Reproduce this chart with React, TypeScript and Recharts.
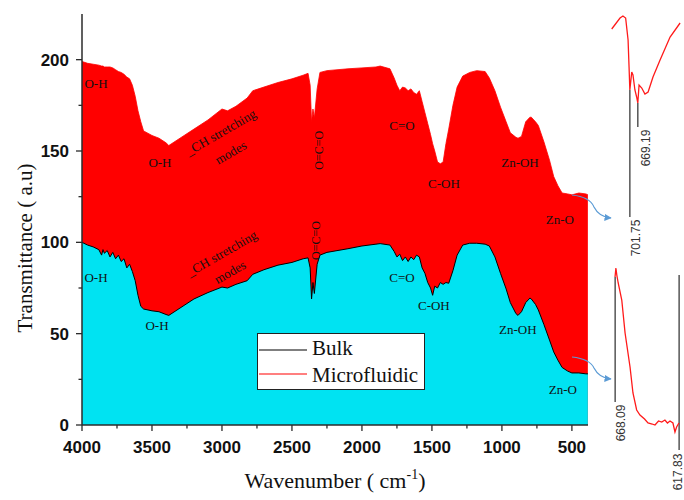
import {
  ComposedChart, LineChart, Area, Line, XAxis, YAxis, Legend,
  ReferenceDot, ReferenceLine,
} from "recharts";

// wavenumber (cm-1)
const WAVENUMBERS = [
  4000, 3960, 3920, 3880, 3860, 3850, 3840, 3820, 3800, 3780,
  3760, 3740, 3720, 3700, 3680, 3660, 3640, 3620, 3600, 3580,
  3560, 3500, 3450, 3400, 3380, 3300, 3200, 3100, 3000, 2960,
  2900, 2820, 2780, 2700, 2600, 2500, 2420, 2385, 2370, 2360,
  2350, 2340, 2320, 2300, 2250, 2100, 2000, 1900, 1870, 1800,
  1770, 1750, 1730, 1710, 1690, 1670, 1650, 1630, 1610, 1590,
  1570, 1550, 1530, 1510, 1495, 1480, 1460, 1440, 1420, 1400,
  1380, 1350, 1320, 1280, 1230, 1180, 1120, 1090, 1050, 1010,
  970, 940, 900, 885, 860, 830, 800, 790, 760, 740,
  700, 660, 630, 600, 570, 530, 500, 450, 400, 386,
];

const MICROFLUIDIC = [
  199, 198, 197.5, 197, 196.5, 196.5, 196, 196, 196, 195.5,
  194.5, 193.5, 193, 192, 190.5, 189.5, 186, 180, 172, 166,
  161, 158.5, 157, 154.5, 153, 157, 162, 167, 173, 172,
  174.5, 179, 183, 185, 187.5, 189.5, 191.5, 192.5, 186, 166,
  173, 168, 184, 193, 194, 195, 195.5, 196, 196.5, 195,
  190, 186, 183, 185, 184.5, 183, 184, 182, 181, 183,
  177, 171, 165, 159, 154, 150, 144, 143, 144, 154,
  162, 175, 185, 191, 193, 194, 193.5, 190, 183, 174,
  166, 160, 157.5, 157, 158, 166, 168.5, 168.5, 166, 164,
  155, 145, 136, 131, 127, 126.5, 126, 127, 126.5, 126,
];

const BULK = [
  100, 98.5, 97.5, 96, 93, 96, 94, 95.5, 92, 94.5,
  91, 93, 89.5, 91, 86, 88, 84, 79, 71, 65,
  63.5, 62.5, 62, 60.5, 60, 64, 69, 72.5, 75.5, 75,
  77, 79, 82.5, 85, 87.5, 89, 91, 91.5, 86, 69,
  78, 72, 88, 93, 94.5, 96.5, 98, 99, 99.3, 98.5,
  95, 92, 93.5, 90, 92, 89.5, 92, 90.5, 93, 92,
  86, 83, 78, 75, 71, 76, 75, 78, 77, 78,
  77.6, 84.5, 93, 98.5, 99.5, 99.5, 99, 98, 92, 83,
  74.5, 67, 61, 60, 62, 67, 69.5, 69, 66, 63,
  55, 46.5, 40, 35.5, 31.5, 29.5, 28.5, 28.5, 28, 28,
];

const X_TICKS = [4000, 3750, 3500, 3250, 3000, 2750, 2500, 2250, 2000, 1750, 1500, 1250, 1000, 750, 500];
const Y_TICKS = [0, 25, 50, 75, 100, 125, 150, 175, 200];
const TOP_TICKS = [3638.5, 3277, 2915.5, 2554, 2192.5, 1831, 1469.5, 1108, 746.5];
const RIGHT_TICKS = [22.5, 45, 67.5, 90, 112.5, 135, 157.5, 180, 202.5];

// band assignments: [wavenumber, transmittance, text, rotation]
const MICRO_BANDS: [number, number, string, number][] = [
  [3900, 187, "O-H", 0],
  [3443, 143.7, "O-H", 0],
  [3009, 160.3, "_CH stretching", -30],
  [2938, 149.3, "modes", -30],
  [2307, 150.4, "O=C=O", -90],
  [1714, 164, "C=O", 0],
  [1414, 132, "C-OH", 0],
  [871, 143.7, "Zn-OH", 0],
  [586, 112.6, "Zn-O", 0],
];
const BULK_BANDS: [number, number, string, number][] = [
  [3900, 81, "O-H", 0],
  [3464, 54.6, "O-H", 0],
  [3002, 94, "_CH stretching", -30],
  [2943, 83.8, "modes", -30],
  [2329, 101, "O=C=O", -90],
  [1714, 81, "C=O", 0],
  [1486, 65.6, "C-OH", 0],
  [886, 52.5, "Zn-OH", 0],
  [564, 19.7, "Zn-O", 0],
];

// zoomed insets (arbitrary transmittance units)
const INSET_A_W = [776, 742, 730, 719, 709, 705, 701.75, 694, 689, 681, 674, 669.19, 664, 653, 640, 627, 607, 578, 537, 496];
const INSET_A_T = [231, 242, 244, 242, 220, 193, 170, 188, 185, 170, 163, 157, 175, 172, 166, 168, 183, 200, 223, 237];
const INSET_B_W = [668.2, 667.5, 666.8, 665.7, 662.9, 660.3, 656.4, 654.1, 651.2, 648.6, 645, 642.3, 639, 636.8, 634, 631.5, 629, 627, 625, 622.7, 621.1, 619.8, 618];
const INSET_B_T = [223, 232, 225, 217, 200, 167, 133, 107, 90, 85, 81, 77, 76, 75, 79, 78, 80, 77, 79, 77, 68, 73, 77];
// peak: [wavenumber, top, bottom, label]
const INSET_A_PEAKS: [number, number, number, string][] = [[701.75, 170, 43, "701.75"], [669.19, 157, 133, "669.19"]];
const INSET_B_PEAKS: [number, number, number, string][] = [[668.09, 223, 98, "668.09"], [617.83, 225, 50, "617.83"]];
const INSET_A_LABELS: [number, number][] = [[676.6, 22], [635.6, 112]];
const INSET_B_LABELS: [number, number][] = [[663.7, 77], [618.8, 28]];

const data = WAVENUMBERS.map((w, i) => ({ w, micro: MICROFLUIDIC[i], bulk: BULK[i] }));
const insetA = INSET_A_W.map((w, i) => ({ w, t: INSET_A_T[i] }));
const insetB = INSET_B_W.map((w, i) => ({ w, t: INSET_B_T[i] }));

const AXIS_COLOR = "#2b2b2b";
const SANS = "'Liberation Sans', Arial, sans-serif";
const SERIF = "'Liberation Serif', 'Times New Roman', serif";

function BottomTick({ x, y, payload }: any) {
  const major = payload.value % 500 === 0;
  return (
    <g>
      <line x1={x} x2={x} y1={y} y2={y + (major ? 6 : 3.5)} stroke={AXIS_COLOR} strokeWidth={1.3} />
      {major && (
        <text x={x} y={y + 28} textAnchor="middle" fontFamily={SANS} fontWeight="bold" fontSize={17} fill="#111">
          {payload.value}
        </text>
      )}
    </g>
  );
}

function LeftTick({ x, y, payload }: any) {
  const major = payload.value % 50 === 0;
  return (
    <g>
      <line x1={x - (major ? 6 : 3.5)} x2={x} y1={y} y2={y} stroke={AXIS_COLOR} strokeWidth={1.3} />
      {major && (
        <text x={x - 13} y={y + 6} textAnchor="end" fontFamily={SANS} fontWeight="bold" fontSize={17} fill="#111">
          {payload.value}
        </text>
      )}
    </g>
  );
}

const TopTick = ({ x, y }: any) => <line x1={x} x2={x} y1={y} y2={y + 6} stroke={AXIS_COLOR} strokeWidth={1.3} />;
const RightTick = ({ x, y }: any) => <line x1={x - 5} x2={x} y1={y} y2={y} stroke={AXIS_COLOR} strokeWidth={1.3} />;

function XTitle({ viewBox }: any) {
  return (
    <text x={viewBox.x + viewBox.width / 2} y={viewBox.y + 63} textAnchor="middle" fontFamily={SERIF} fontSize={22} fill="#111">
      Wavenumber ( cm<tspan dy={-9} fontSize={14}>-1</tspan><tspan dy={9}>)</tspan>
    </text>
  );
}

function YTitle() {
  return (
    <text x={32} y={248} transform="rotate(-90, 32, 248)" textAnchor="middle" fontFamily={SERIF} fontSize={21} fill="#111">
      Transmittance ( a.u)
    </text>
  );
}

function bandLabel(text: string, angle: number) {
  return ({ cx, cy }: any) => (
    <text
      x={cx} y={cy} dy="0.35em" textAnchor="middle"
      transform={angle ? `rotate(${angle}, ${cx}, ${cy})` : undefined}
      fontFamily={SERIF} fontSize={text === "O=C=O" ? 12 : 13} fill="#111"
    >
      {text}
    </text>
  );
}

function peakLabel(text: string) {
  return ({ cx, cy }: any) => (
    <text x={cx} y={cy} dy="0.35em" textAnchor="middle" transform={`rotate(-90, ${cx}, ${cy})`}
      fontFamily={SANS} fontSize={12} fill="#333">
      {text}
    </text>
  );
}

function LegendBox() {
  return (
    <div style={{ width: 168, height: 57, border: "1px solid #222", background: "#fff", boxSizing: "border-box" }}>
      <svg width={166} height={55} style={{ display: "block" }}>
        <line x1={1} x2={49} y1={16} y2={16} stroke="#000" strokeWidth={1.2} />
        <text x={54} y={21} fontFamily={SERIF} fontSize={21} fill="#111">Bulk</text>
        <line x1={1} x2={49} y1={40} y2={40} stroke="#ff0000" strokeWidth={1.2} />
        <text x={54} y={48} fontFamily={SERIF} fontSize={21} fill="#111">Microfluidic</text>
      </svg>
    </div>
  );
}

function Inset({ rows, domainW, domainT, peaks, labels, top, height }: any) {
  return (
    <div style={{ position: "absolute", left: 600, top, width: 84, height }}>
      <LineChart width={84} height={height} data={rows} margin={{ top: 0, right: 0, bottom: 0, left: 0 }}>
        <XAxis type="number" dataKey="w" domain={domainW} reversed hide allowDataOverflow />
        <YAxis type="number" domain={domainT} hide allowDataOverflow />
        {peaks.map(([w, a, b]: any) => (
          <ReferenceLine key={w} segment={[{ x: w, y: a }, { x: w, y: b }]} stroke="#555" strokeWidth={1.5} />
        ))}
        <Line dataKey="t" type="linear" stroke="#ff1a1a" strokeWidth={1.3} dot={false} activeDot={false} isAnimationActive={false} />
        {labels.map(([w, t]: any, i: number) => (
          <ReferenceDot key={i} x={w} y={t} r={0} shape={peakLabel(peaks[i][3])} />
        ))}
      </LineChart>
    </div>
  );
}

export default function App() {
  return (
    <div style={{ position: "absolute", left: 0, top: 0, width: 684, height: 500, background: "#fff", overflow: "hidden" }}>
      <ComposedChart width={684} height={500} data={data} margin={{ top: 14, right: 96, bottom: 0, left: 0 }}>
        <XAxis
          type="number" dataKey="w" domain={[385, 4000]} reversed allowDataOverflow
          ticks={X_TICKS} interval={0} height={75} tickSize={0} tickMargin={0}
          tick={<BottomTick />} axisLine={{ stroke: AXIS_COLOR, strokeWidth: 1.5 }}
          label={<XTitle />}
        />
        <XAxis
          xAxisId="top" orientation="top" type="number" domain={[385, 4000]} reversed allowDataOverflow
          ticks={TOP_TICKS} interval={0} height={0} tickSize={0} tickMargin={0}
          tick={<TopTick />} axisLine={{ stroke: AXIS_COLOR, strokeWidth: 1.5 }}
        />
        <YAxis
          type="number" domain={[0, 225]} allowDataOverflow ticks={Y_TICKS} interval={0}
          width={82} tickSize={0} tickMargin={0} tick={<LeftTick />}
          axisLine={{ stroke: AXIS_COLOR, strokeWidth: 1.5 }} label={<YTitle />}
        />
        <YAxis
          yAxisId="right" orientation="right" type="number" domain={[0, 225]} allowDataOverflow
          ticks={RIGHT_TICKS} interval={0} width={0} tickSize={0} tickMargin={0}
          tick={<RightTick />} axisLine={{ stroke: AXIS_COLOR, strokeWidth: 1.5 }}
        />
        <Area
          dataKey="micro" name="Microfluidic" type="linear" baseValue={0}
          fill="#ff0000" fillOpacity={1} stroke="#ff0000" strokeWidth={0.8}
          dot={false} activeDot={false} isAnimationActive={false}
        />
        <Area
          dataKey="bulk" name="Bulk" type="linear" baseValue={0}
          fill="#00e3f2" fillOpacity={1} stroke="#000" strokeWidth={1}
          dot={false} activeDot={false} isAnimationActive={false}
        />
        {MICRO_BANDS.map(([w, v, text, angle], i) => (
          <ReferenceDot key={"m" + i} x={w} y={v} r={0} shape={bandLabel(text, angle)} />
        ))}
        {BULK_BANDS.map(([w, v, text, angle], i) => (
          <ReferenceDot key={"b" + i} x={w} y={v} r={0} shape={bandLabel(text, angle)} />
        ))}
        <Legend
          layout="vertical" align="center" verticalAlign="middle"
          content={<LegendBox />}
          wrapperStyle={{ left: 257, top: 333, width: 168, height: 57 }}
        />
      </ComposedChart>

      <Inset rows={insetA} domainW={[480, 824]} domainT={[0, 260]} peaks={INSET_A_PEAKS} labels={INSET_A_LABELS} top={0} height={260} />
      <Inset rows={insetB} domainW={[614, 680]} domainT={[0, 250]} peaks={INSET_B_PEAKS} labels={INSET_B_LABELS} top={250} height={250} />

      {/* curved pointers from the main plot to the insets */}
      <svg width={684} height={500} style={{ position: "absolute", left: 0, top: 0, pointerEvents: "none" }}>
        <defs>
          <marker id="tip" viewBox="0 0 10 10" refX={9} refY={5} markerWidth={6} markerHeight={6} orient="auto">
            <path d="M0,0 L10,5 L0,10 z" fill="#5b9bd5" />
          </marker>
        </defs>
        <path d="M572,195 Q590,197 594,207 Q599,217 611,218" fill="none" stroke="#5b9bd5" strokeWidth={1.2} markerEnd="url(#tip)" />
        <path d="M572,357 Q590,359 594,368 Q599,378 611,379" fill="none" stroke="#5b9bd5" strokeWidth={1.2} markerEnd="url(#tip)" />
      </svg>
    </div>
  );
}
